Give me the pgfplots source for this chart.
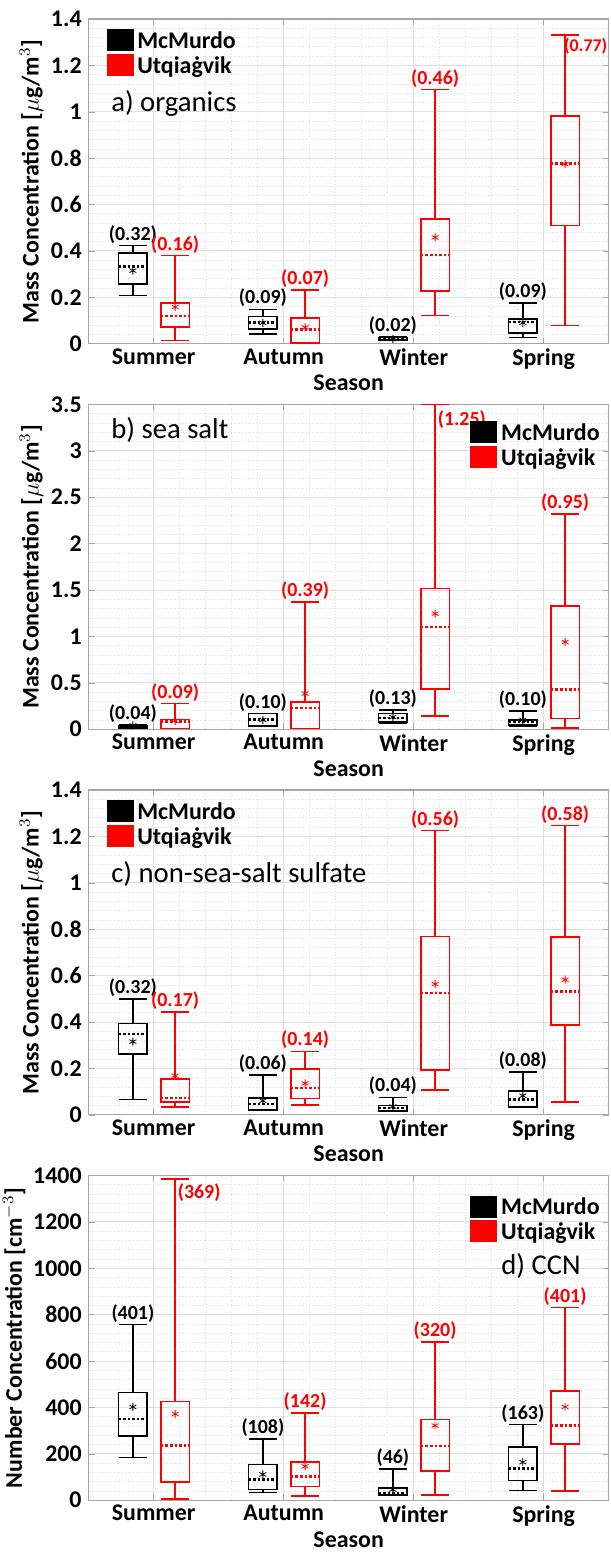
\documentclass[border=0pt]{standalone}
\usepackage{pgfplots}
\pgfplotsset{compat=1.18}
\usepgfplotslibrary{statistics}
\usepackage{fontspec}
\setmainfont{Carlito}
\definecolor{ured}{RGB}{255,0,0}
\newcommand{\bp}[8]{%
 \addplot[#8, line width=0.8pt, solid, forget plot, boxplot prepared={draw direction=y, draw position=#1, lower whisker=#2, lower quartile=#3, median=#4, upper quartile=#5, upper whisker=#6, box extend=0.22, whisker extend=0.22, every median/.style={densely dotted, line width=1.3pt}}] coordinates {};
 \addplot[#8, only marks, mark=asterisk, mark size=2pt, forget plot] coordinates {(#1,#7)};
}
\newcommand{\lab}[4]{\node[#3, font=\bfseries, above, inner sep=1pt] at (axis cs:#1,#2) {(#4)};}
\newcommand{\labr}[4]{\node[#3, font=\bfseries, below right, inner sep=0.5pt] at (axis cs:#1,#2) {(#4)};}
\pgfplotsset{
 panel/.style={
  width=261pt, height=163pt, scale only axis,
  xmin=0.5, xmax=4.5, xtick={1,2,3,4},
  xticklabels={Summer,Autumn,Winter,Spring},
  ymin=0,
  grid=both, minor x tick num=4, minor y tick num=4,
  major grid style={gray!25, line width=0.4pt},
  minor grid style={gray!25, densely dotted, line width=0.3pt},
  axis line style={gray!70, line width=0.6pt},
  tick style={gray!70}, tick align=inside,
  major tick length=3pt, minor tick length=0pt,
  ticklabel style={font=\bfseries\large},
  xticklabel style={yshift=1pt},
  /pgf/number format/assume math mode=true,
  /pgf/number format/1000 sep={},
  xlabel={\bfseries\large Season},
  xlabel style={yshift=4pt},
  ylabel style={font=\bfseries\large, yshift=-3pt},
  legend cell align=left,
  legend image code/.code={\fill[#1] (0pt,-4.5pt) rectangle (13pt,6pt);},
  legend style={draw=none, fill=none, font=\bfseries\large, row sep=-1.5pt, inner sep=1pt},
 },
}
\begin{document}
\begin{tikzpicture}
\useasboundingbox (-44.5pt,-607pt) rectangle (262pt,172.5pt);
% ---------- a
\begin{axis}[panel, at={(0,0)}, ymax=1.4, ytick={0,0.2,...,1.4},
 ylabel={Mass Concentration [$\mu$g/m$^3$]},
 legend style={at={(0.03,0.98)}, anchor=north west}]
\addlegendimage{black}\addlegendentry{McMurdo}
\addlegendimage{ured}\addlegendentry{Utqiaġvik}
\bp{0.84}{0.208}{0.258}{0.332}{0.39}{0.423}{0.315}{black}
\bp{1.165}{0.014}{0.072}{0.119}{0.176}{0.38}{0.158}{ured}
\bp{1.84}{0.042}{0.064}{0.092}{0.117}{0.148}{0.09}{black}
\bp{2.165}{0.003}{0.003}{0.06}{0.11}{0.232}{0.07}{ured}
\bp{2.84}{0.014}{0.017}{0.02}{0.026}{0.029}{0.02}{black}
\bp{3.165}{0.122}{0.226}{0.383}{0.537}{1.096}{0.458}{ured}
\bp{3.84}{0.026}{0.047}{0.093}{0.107}{0.175}{0.09}{black}
\bp{4.165}{0.079}{0.509}{0.778}{0.981}{1.33}{0.774}{ured}
\lab{0.84}{0.423}{black}{0.32}
\lab{1.165}{0.38}{ured}{0.16}
\lab{1.84}{0.148}{black}{0.09}
\lab{2.165}{0.232}{ured}{0.07}
\lab{2.84}{0.029}{black}{0.02}
\lab{3.165}{1.096}{ured}{0.46}
\lab{3.84}{0.175}{black}{0.09}
\node[ured, font=\bfseries\small, below left, inner sep=0.5pt] at (rel axis cs:1,0.945) {(0.77)};
\node[anchor=north west, font=\Large] at (rel axis cs:0.03,0.8) {a) organics};
\end{axis}
% ---------- b
\begin{axis}[panel, at={(0,-193.5pt)}, ymax=3.5, ytick={0,0.5,...,3.5},
 ylabel={Mass Concentration [$\mu$g/m$^3$]},
 legend style={at={(0.995,0.96)}, anchor=north east}]
\addlegendimage{black}\addlegendentry{McMurdo}
\addlegendimage{ured}\addlegendentry{Utqiaġvik}
\bp{0.84}{0.01}{0.012}{0.03}{0.036}{0.043}{0.04}{black}
\bp{1.165}{0.007}{0.007}{0.086}{0.104}{0.276}{0.09}{ured}
\bp{1.84}{0.036}{0.036}{0.104}{0.169}{0.169}{0.10}{black}
\bp{2.165}{0.007}{0.007}{0.23}{0.294}{1.37}{0.384}{ured}
\bp{2.84}{0.06}{0.079}{0.122}{0.169}{0.205}{0.13}{black}
\bp{3.165}{0.144}{0.431}{1.102}{1.515}{3.5}{1.245}{ured}
\bp{3.84}{0.036}{0.043}{0.079}{0.097}{0.197}{0.10}{black}
\bp{4.165}{0.014}{0.115}{0.427}{1.328}{2.32}{0.94}{ured}
\lab{0.84}{0.043}{black}{0.04}
\lab{1.165}{0.276}{ured}{0.09}
\lab{1.84}{0.169}{black}{0.10}
\lab{2.165}{1.37}{ured}{0.39}
\lab{2.84}{0.205}{black}{0.13}
\labr{3.175}{3.45}{ured}{1.25}
\lab{3.84}{0.197}{black}{0.10}
\lab{4.165}{2.32}{ured}{0.95}
\node[anchor=north west, font=\Large] at (rel axis cs:0.03,0.98) {b) sea salt};
\end{axis}
% ---------- c
\begin{axis}[panel, at={(0,-387pt)}, ymax=1.4, ytick={0,0.2,...,1.4},
 ylabel={Mass Concentration [$\mu$g/m$^3$]},
 legend style={at={(0.03,0.98)}, anchor=north west}]
\addlegendimage{black}\addlegendentry{McMurdo}
\addlegendimage{ured}\addlegendentry{Utqiaġvik}
\bp{0.84}{0.065}{0.262}{0.348}{0.394}{0.499}{0.315}{black}
\bp{1.165}{0.034}{0.056}{0.072}{0.154}{0.444}{0.168}{ured}
\bp{1.84}{0.02}{0.02}{0.046}{0.072}{0.171}{0.06}{black}
\bp{2.165}{0.042}{0.07}{0.115}{0.197}{0.273}{0.135}{ured}
\bp{2.84}{0.017}{0.017}{0.029}{0.039}{0.075}{0.035}{black}
\bp{3.165}{0.106}{0.193}{0.525}{0.768}{1.225}{0.563}{ured}
\bp{3.84}{0.032}{0.032}{0.065}{0.103}{0.183}{0.082}{black}
\bp{4.165}{0.056}{0.387}{0.53}{0.765}{1.246}{0.582}{ured}
\lab{0.84}{0.499}{black}{0.32}
\lab{1.165}{0.444}{ured}{0.17}
\lab{1.84}{0.171}{black}{0.06}
\lab{2.165}{0.273}{ured}{0.14}
\lab{2.84}{0.075}{black}{0.04}
\lab{3.165}{1.225}{ured}{0.56}
\lab{3.84}{0.183}{black}{0.08}
\lab{4.165}{1.246}{ured}{0.58}
\node[anchor=north west, font=\Large] at (rel axis cs:0.03,0.8) {c) non-sea-salt sulfate};
\end{axis}
% ---------- d
\begin{axis}[panel, at={(0,-580.5pt)}, ymax=1400, ytick={0,200,...,1400},
 ylabel={Number Concentration [cm$^{-3}$]},
 legend style={at={(0.995,0.95)}, anchor=north east}]
\addlegendimage{black}\addlegendentry{McMurdo}
\addlegendimage{ured}\addlegendentry{Utqiaġvik}
\bp{0.84}{185}{276}{350}{465}{757}{402}{black}
\bp{1.165}{6}{78}{235}{426}{1384}{372}{ured}
\bp{1.84}{34}{46}{89}{154}{264}{111}{black}
\bp{2.165}{17}{60}{103}{164}{376}{146}{ured}
\bp{2.84}{20}{23}{32}{52}{135}{46}{black}
\bp{3.165}{22}{125}{233}{348}{681}{322}{ured}
\bp{3.84}{42}{85}{136}{230}{326}{164}{black}
\bp{4.165}{39}{243}{322}{470}{831}{402}{ured}
\lab{0.84}{757}{black}{401}
\labr{1.175}{1370}{ured}{369}
\lab{1.84}{264}{black}{108}
\lab{2.165}{376}{ured}{142}
\lab{2.84}{135}{black}{46}
\lab{3.165}{681}{ured}{320}
\lab{3.84}{326}{black}{163}
\lab{4.165}{831}{ured}{401}
\node[anchor=north west, font=\Large] at (rel axis cs:0.78,0.78) {d) CCN};
\end{axis}
\end{tikzpicture}
\end{document}
